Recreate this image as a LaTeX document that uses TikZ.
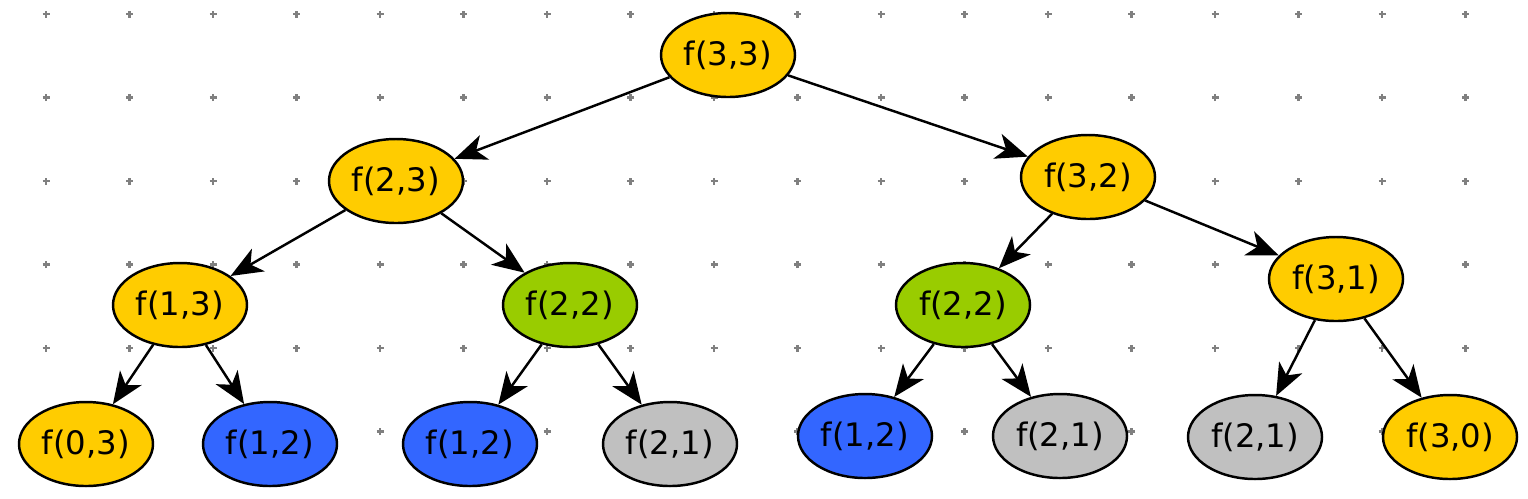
\documentclass[tikz,border=0pt]{standalone}
\usepackage{fontspec}
\setmainfont{DejaVu Sans}
\usetikzlibrary{shapes.geometric,arrows.meta}
\definecolor{callyellow}{HTML}{FFCC00}
\definecolor{callgreen}{HTML}{99CC00}
\definecolor{callblue}{HTML}{3366FF}
\definecolor{callgray}{HTML}{C0C0C0}
\begin{document}
\begin{tikzpicture}
    [%%%%%%%%%%%%%%%%%%%%%%%%%%%%%%
        call/.style={ellipse,draw=black,line width=0.7pt,minimum width=1.34cm,minimum height=0.84cm,inner sep=0pt,font=\fontsize{9.2}{10}\selectfont},
        link/.style={draw=black,line width=0.7pt,-{Stealth[length=3.2mm,width=2.6mm,inset=0.9mm]}},
        dot/.style={draw=gray,line width=0.6pt},
    ]%%%%%%%%%%%%%%%%%%%%%%%%%%%%%%
\useasboundingbox (0,0) rectangle (15.28,4.98);
\foreach \i in {0,...,17}
    \foreach \j in {0,...,5}
        \draw[dot] ({0.46+0.835*\i-0.035},{4.84-0.835*\j}) -- ++(0.07,0)
                   ({0.46+0.835*\i},{4.84-0.835*\j-0.035}) -- ++(0,0.07);
\node[call, fill=callyellow] (f33) at (7.28,4.43) {f(3,3)};
\node[call, fill=callyellow] (f23) at (3.96,3.17) {f(2,3)};
\node[call, fill=callyellow] (f32) at (10.88,3.21) {f(3,2)};
\node[call, fill=callyellow] (f13) at (1.80,1.93) {f(1,3)};
\node[call, fill=callgreen] (f22a) at (5.70,1.93) {f(2,2)};
\node[call, fill=callgreen] (f22b) at (9.63,1.93) {f(2,2)};
\node[call, fill=callyellow] (f31) at (13.36,2.19) {f(3,1)};
\node[call, fill=callyellow] (f03) at (0.86,0.54) {f(0,3)};
\node[call, fill=callblue] (f12a) at (2.70,0.54) {f(1,2)};
\node[call, fill=callblue] (f12b) at (4.70,0.54) {f(1,2)};
\node[call, fill=callgray] (f21a) at (6.70,0.54) {f(2,1)};
\node[call, fill=callblue] (f12c) at (8.65,0.62) {f(1,2)};
\node[call, fill=callgray] (f21b) at (10.60,0.62) {f(2,1)};
\node[call, fill=callgray] (f21c) at (12.55,0.61) {f(2,1)};
\node[call, fill=callyellow] (f30) at (14.50,0.61) {f(3,0)};
\draw[link] (f33) -- (f23);
\draw[link] (f33) -- (f32);
\draw[link] (f23) -- (f13);
\draw[link] (f23) -- (f22a);
\draw[link] (f13) -- (f03);
\draw[link] (f13) -- (f12a);
\draw[link] (f22a) -- (f12b);
\draw[link] (f22a) -- (f21a);
\draw[link] (f32) -- (f22b);
\draw[link] (f32) -- (f31);
\draw[link] (f22b) -- (f12c);
\draw[link] (f22b) -- (f21b);
\draw[link] (f31) -- (f21c);
\draw[link] (f31) -- (f30);
\end{tikzpicture}
\end{document}
